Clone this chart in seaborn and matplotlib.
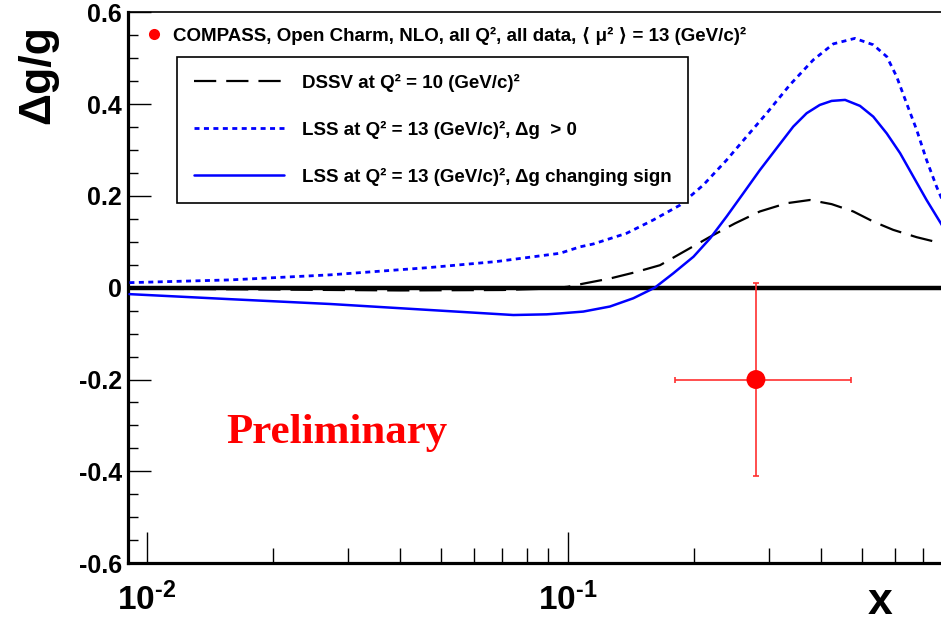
import numpy as np
import pandas as pd
import matplotlib
matplotlib.use("Agg")
import matplotlib.pyplot as plt
import seaborn as sns
from matplotlib.lines import Line2D
from matplotlib.ticker import FixedLocator, FixedFormatter, NullFormatter, LogLocator, MultipleLocator

# ---------------- data ----------------
dssv_x = [0.0091, 0.02, 0.04, 0.07, 0.09, 0.10, 0.110, 0.126, 0.1445, 0.1657, 0.190, 0.218, 0.2496,
          0.286, 0.3313, 0.376, 0.4236, 0.477, 0.532, 0.593, 0.6745, 0.77, 0.80]
dssv_y = [-0.002, -0.004, -0.006, -0.005, -0.002, 0.002, 0.0096, 0.020, 0.0335, 0.049, 0.080, 0.111, 0.140,
          0.166, 0.184, 0.191, 0.182, 0.166, 0.144, 0.126, 0.110, 0.097, 0.094]

lss_pos_x = [0.0091, 0.0158, 0.0273, 0.0471, 0.0678, 0.0959, 0.107, 0.115, 0.138, 0.1597, 0.185, 0.210,
             0.2385, 0.266, 0.297, 0.337, 0.383, 0.4275, 0.481, 0.532, 0.573, 0.6045, 0.638, 0.6745,
             0.712, 0.752, 0.77, 0.80]
lss_pos_y = [0.011, 0.017, 0.028, 0.044, 0.057, 0.075, 0.089, 0.0952, 0.1185, 0.1475, 0.180, 0.2237,
             0.278, 0.329, 0.380, 0.4416, 0.496, 0.531, 0.543, 0.529, 0.503, 0.4597, 0.402, 0.3436,
             0.278, 0.220, 0.198, 0.16]

lss_cs_x = [0.0091, 0.0158, 0.0273, 0.0471, 0.0743, 0.0892, 0.0959, 0.1089, 0.126, 0.1432, 0.161, 0.178,
            0.199, 0.218, 0.2385, 0.2613, 0.286, 0.3135, 0.3435, 0.3695, 0.397, 0.4236, 0.456, 0.4946,
            0.532, 0.5726, 0.616, 0.6622, 0.712, 0.77, 0.80]
lss_cs_y = [-0.014, -0.025, -0.0355, -0.0486, -0.0595, -0.058, -0.056, -0.052, -0.041, -0.023, 0.0, 0.031,
            0.0675, 0.1076, 0.155, 0.2056, 0.256, 0.3037, 0.351, 0.380, 0.398, 0.4068, 0.409, 0.396,
            0.3725, 0.336, 0.293, 0.242, 0.191, 0.140, 0.115]

point_x = [0.28]
point_y = [-0.20]
point_xerr_lo = [0.10]
point_xerr_hi = [0.19]
point_yerr = [0.21]

y_ticks = [-0.6, -0.4, -0.2, 0.0, 0.2, 0.4, 0.6]
y_tick_labels = ["-0.6", "-0.4", "-0.2", "0", "0.2", "0.4", "0.6"]
x_ticks = [0.01, 0.1]
x_tick_labels = [r"$10^{\text{-2}}$", r"$10^{\text{-1}}$"]

compass_label = "COMPASS, Open Charm, NLO, all Q², all data, ⟨ μ² ⟩ = 13 (GeV/c)²"
curve_labels = ["DSSV at Q² = 10 (GeV/c)²",
                "LSS at Q² = 13 (GeV/c)², Δg  > 0",
                "LSS at Q² = 13 (GeV/c)², Δg changing sign"]

# ---------------- style ----------------
sns.set_theme(style="white")
plt.rcParams["font.family"] = ["Liberation Sans", "DejaVu Sans"]
plt.rcParams["font.weight"] = "bold"
plt.rcParams["text.color"] = "black"
plt.rcParams["axes.labelcolor"] = "black"
plt.rcParams["xtick.color"] = "black"
plt.rcParams["ytick.color"] = "black"
plt.rcParams["mathtext.fontset"] = "custom"
plt.rcParams["mathtext.rm"] = "Liberation Sans:bold"
plt.rcParams["mathtext.it"] = "Liberation Sans:bold"
plt.rcParams["mathtext.bf"] = "Liberation Sans:bold"
plt.rcParams["mathtext.default"] = "rm"

W, H = 941, 623
fig = plt.figure(figsize=(W / 100, H / 100), dpi=100)
fig.patch.set_facecolor("white")
ax = fig.add_axes([128 / W, (H - 563.2) / H, 820 / W, 551 / H])
ax.set_facecolor("white")

# zero line
ax.axhline(0, color="black", lw=3.2, zorder=2)

sns.lineplot(x=dssv_x, y=dssv_y, ax=ax, color="black", linewidth=1.6,
             linestyle=(0, (10, 4.5)), label=curve_labels[0], zorder=3, sort=False)
sns.lineplot(x=lss_pos_x, y=lss_pos_y, ax=ax, color="#0000ff", linewidth=2.0,
             linestyle=(0, (1.8, 1.6)), label=curve_labels[1], zorder=3, sort=False)
sns.lineplot(x=lss_cs_x, y=lss_cs_y, ax=ax, color="#0000ff", linewidth=1.8,
             linestyle="-", label=curve_labels[2], zorder=3, sort=False)

# data point with errors
ax.errorbar(point_x, point_y, xerr=[point_xerr_lo, point_xerr_hi], yerr=[point_yerr, point_yerr],
            fmt="none", ecolor="#ff3030", elinewidth=1.2, capsize=2.2, capthick=1.2, zorder=4)
sns.scatterplot(x=point_x, y=point_y, ax=ax, color="#ff0000", s=185, edgecolor="none",
                zorder=5, legend=False)

ax.set_xscale("log")
ax.set_xlim(0.00903, 0.8005)
ax.set_ylim(-0.6, 0.6)

# ticks
ax.xaxis.set_major_locator(FixedLocator(x_ticks))
ax.xaxis.set_major_formatter(FixedFormatter(x_tick_labels))
ax.xaxis.set_minor_locator(LogLocator(base=10, subs=list(range(2, 10))))
ax.xaxis.set_minor_formatter(NullFormatter())
ax.yaxis.set_major_locator(FixedLocator(y_ticks))
ax.yaxis.set_major_formatter(FixedFormatter(y_tick_labels))
ax.yaxis.set_minor_locator(MultipleLocator(0.05))

ax.tick_params(axis="x", which="major", direction="in", length=22, width=1.0, pad=14,
               labelsize=24, bottom=True, top=False, colors="black")
ax.tick_params(axis="x", which="minor", direction="in", length=11, width=1.0, bottom=True, top=False,
               colors="black")
ax.tick_params(axis="y", which="major", direction="in", length=16.5, width=1.0, pad=4.5,
               labelsize=18, left=True, right=False, colors="black")
ax.tick_params(axis="y", which="minor", direction="in", length=7.4, width=1.0, left=True, right=False,
               colors="black")
for lab in ax.get_xticklabels() + ax.get_yticklabels():
    lab.set_fontweight("bold")

for s in ["left", "bottom"]:
    ax.spines[s].set_linewidth(2.3)
    ax.spines[s].set_color("black")
ax.spines["top"].set_linewidth(1.2)
ax.spines["top"].set_color("black")
ax.spines["right"].set_visible(False)
ax.set_xlabel("")
ax.set_ylabel("")

# axis titles
fig.text(37.5 / W, (H - 25) / H, "Δg/g", rotation=90, ha="center", va="top",
         fontsize=32, fontweight="bold", color="black")
fig.text(880 / W, (H - 614) / H, "x", ha="center", va="baseline",
         fontsize=32, fontweight="bold", color="black")

# legends
leg_font = {"family": ["Liberation Sans", "DejaVu Sans"], "weight": "bold", "size": 13.5}
h_pt = Line2D([], [], marker="o", color="#ff0000", linestyle="none", markersize=8,
              markeredgewidth=0)
leg1 = ax.legend([h_pt], [compass_label], loc="center left",
                 bbox_to_anchor=((145.3 - 128) / 820, (563.2 - 35.7) / 551),
                 frameon=False, prop=leg_font, handlelength=0.93, handletextpad=0.55,
                 borderpad=0, borderaxespad=0, labelcolor="black")
ax.add_artist(leg1)

handles, labels = ax.get_legend_handles_labels()
leg2 = ax.legend(handles[:3], curve_labels, loc="upper left",
                 bbox_to_anchor=((176.7 - 128) / 820, (563.2 - 56.7) / 551),
                 frameon=True, fancybox=False, framealpha=1, edgecolor="black",
                 prop=leg_font, handlelength=4.8, handletextpad=0.96,
                 labelspacing=1.55, borderpad=0.9, borderaxespad=0, labelcolor="black")
leg2.get_frame().set_linewidth(1.2)

# preliminary tag
ax.text((226.7 - 128) / 820, (563.2 - 443) / 551, "Preliminary", transform=ax.transAxes,
        ha="left", va="baseline", color="#ff0000", fontsize=31, fontweight="bold",
        family=["Liberation Serif", "DejaVu Serif"])

fig.savefig("out.png", dpi=100, facecolor="white")
